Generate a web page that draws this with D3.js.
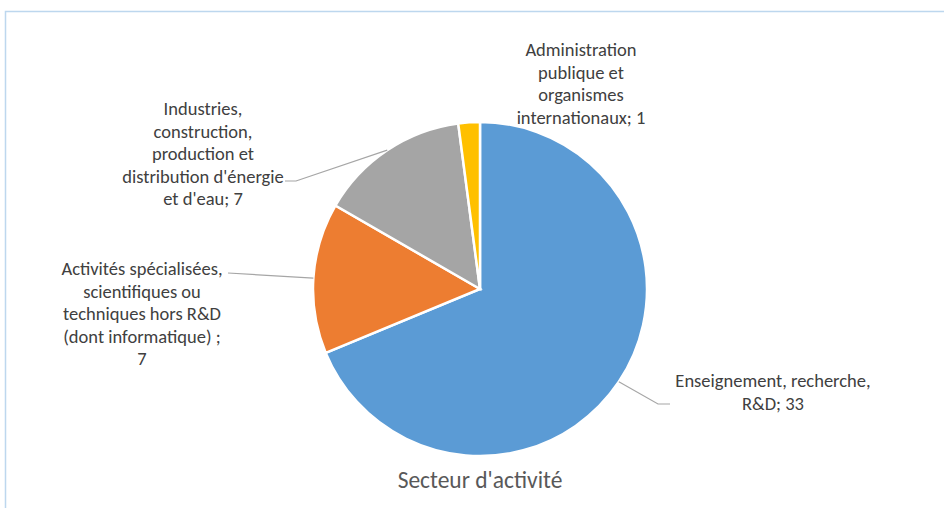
<!DOCTYPE html>
<html>
<head>
<meta charset="utf-8">
<script src="https://cdn.jsdelivr.net/npm/d3@7"></script>
<style>
  body { margin: 0; background: #fff; }
  svg text { font-family: Carlito, Calibri, Lato, sans-serif; }
</style>
</head>
<body>
<div id="chart"></div>
<script>
// secteur d'activite, values
var categories = [
  "Enseignement, recherche, R&D",
  "Activités spécialisées, scientifiques ou techniques hors R&D (dont informatique)",
  "Industries, construction, production et distribution d'énergie et d'eau",
  "Administration publique et organismes internationaux"
];
var values = [33, 7, 7, 1];
var colors = ["#5B9BD5", "#ED7D31", "#A5A5A5", "#FFC000"];
var labelLines = [
  ["Enseignement, recherche,", "R&D; 33"],
  ["Activités spécialisées,", "scientifiques ou", "techniques hors R&D", "(dont informatique) ;", "7"],
  ["Industries,", "construction,", "production et", "distribution d'énergie", "et d'eau; 7"],
  ["Administration", "publique et", "organismes", "internationaux; 1"]
];
var title = "Secteur d'activité";

var width = 944, height = 508;
var cx = 480, cy = 289, radius = 167;

// where each label block sits, and the leader line bend
var labelPos = [
  { x: 773, y: 387, elbow: [658, 404], end: [670, 404], leader: true },
  { x: 142, y: 275, elbow: [228, 273], end: [228, 273], leader: true },
  { x: 203, y: 115, elbow: [296, 181], end: [285, 181], leader: true },
  { x: 581, y: 56, leader: false }
];

var svg = d3.select("#chart").append("svg")
  .attr("width", width)
  .attr("height", height);

svg.append("rect")
  .attr("x", 5.5).attr("y", 11.5)
  .attr("width", width + 20).attr("height", height + 20)
  .style("fill", "#fff")
  .style("stroke", "#BDD7EE")
  .style("stroke-width", 1.5);

var pie = d3.pie().sort(null).value(function(d){ return d; });
var arcs = pie(values);
var arc = d3.arc().innerRadius(0).outerRadius(radius);
var edge = d3.arc().innerRadius(radius).outerRadius(radius);

var g = svg.append("g").attr("transform", "translate(" + cx + "," + cy + ")");

g.selectAll("path.slice")
  .data(arcs)
  .enter().append("path")
  .attr("class", "slice")
  .attr("d", arc)
  .style("fill", function(d, i){ return colors[i]; })
  .style("stroke", "#fff")
  .style("stroke-width", 2.5);

// leader lines
arcs.forEach(function(d, i){
  var p = labelPos[i];
  if(!p.leader) return;
  var c = edge.centroid(d);
  var pts = [[cx + c[0], cy + c[1]], p.elbow, p.end];
  svg.append("path")
    .attr("d", d3.line()(pts))
    .style("fill", "none")
    .style("stroke", "#A6A6A6")
    .style("stroke-width", 1.2);
});

// labels
labelLines.forEach(function(lines, i){
  var p = labelPos[i];
  var t = svg.append("text")
    .attr("x", p.x).attr("y", p.y)
    .attr("text-anchor", "middle")
    .style("font-size", "18.5px")
    .style("fill", "#404040");
  lines.forEach(function(line, j){
    t.append("tspan")
      .attr("x", p.x)
      .attr("dy", j === 0 ? 0 : 22.6)
      .text(line);
  });
});

svg.append("text")
  .attr("x", cx).attr("y", 488)
  .attr("text-anchor", "middle")
  .style("font-size", "23.5px")
  .style("fill", "#595959")
  .text(title);
</script>
</body>
</html>
